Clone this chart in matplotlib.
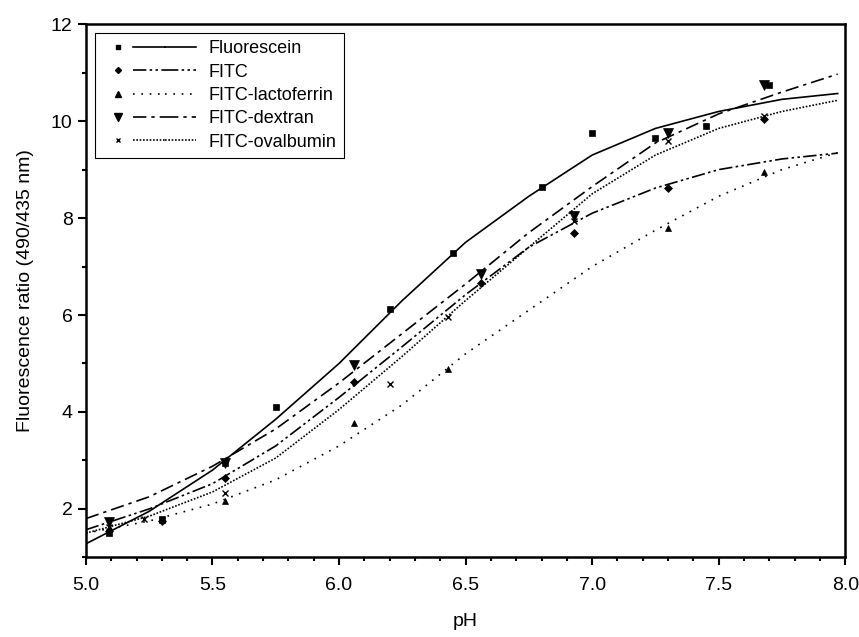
import numpy as np
import matplotlib
matplotlib.use('Agg')
import matplotlib.pyplot as plt
from matplotlib.lines import Line2D
from matplotlib.legend_handler import HandlerTuple
from matplotlib.ticker import MultipleLocator

plt.rcParams['font.family'] = ['Liberation Sans', 'DejaVu Sans']

# measured points (pH, ratio)
fl_x = [5.09, 5.30, 5.55, 5.75, 6.20, 6.45, 6.80, 7.00, 7.25, 7.45, 7.70]
fl_y = [1.50, 1.80, 2.95, 4.10, 6.12, 7.28, 8.65, 9.75, 9.65, 9.90, 10.75]

fitc_x = [5.09, 5.30, 5.55, 6.06, 6.56, 6.93, 7.30, 7.68]
fitc_y = [1.55, 1.75, 2.64, 4.62, 6.66, 7.69, 8.62, 10.05]

lact_x = [5.09, 5.30, 5.55, 6.06, 6.43, 7.30, 7.68]
lact_y = [1.60, 1.78, 2.16, 3.77, 4.89, 7.80, 8.95]

dex_x = [5.09, 5.55, 6.06, 6.56, 6.93, 7.30, 7.68]
dex_y = [1.73, 2.95, 4.97, 6.85, 8.05, 9.75, 10.75]

ova_x = [5.09, 5.23, 5.55, 6.20, 6.43, 6.93, 7.30, 7.68]
ova_y = [1.62, 1.80, 2.33, 4.58, 5.96, 7.95, 9.60, 10.10]

# fitted curves
curve_x = [5.0, 5.25, 5.5, 5.75, 6.0, 6.25, 6.5, 6.75, 7.0, 7.25, 7.5, 7.75, 7.97]
fl_fit = [1.28, 1.95, 2.80, 3.85, 5.00, 6.30, 7.50, 8.45, 9.30, 9.85, 10.20, 10.45, 10.57]
fitc_fit = [1.57, 2.00, 2.52, 3.30, 4.30, 5.35, 6.42, 7.40, 8.10, 8.62, 9.00, 9.22, 9.34]
lact_fit = [1.50, 1.75, 2.10, 2.60, 3.30, 4.15, 5.20, 6.10, 7.00, 7.75, 8.45, 9.00, 9.35]
dex_fit = [1.80, 2.25, 2.88, 3.65, 4.60, 5.62, 6.64, 7.70, 8.65, 9.55, 10.15, 10.60, 10.97]
ova_fit = [1.50, 1.85, 2.35, 3.05, 4.05, 5.15, 6.30, 7.40, 8.50, 9.30, 9.85, 10.20, 10.43]

labels = ['Fluorescein', 'FITC', 'FITC-lactoferrin', 'FITC-dextran', 'FITC-ovalbumin']

series = [
    (fl_x, fl_y, fl_fit, 's', 3.8, '-'),
    (fitc_x, fitc_y, fitc_fit, 'D', 3.8, (0, (8, 2, 1.5, 2, 1.5, 2))),
    (lact_x, lact_y, lact_fit, '^', 4.8, (0, (1, 4))),
    (dex_x, dex_y, dex_fit, 'v', 6.5, (0, (8, 3, 2, 3))),
    (ova_x, ova_y, ova_fit, 'x', 3.8, (0, (1, 1))),
]

fig = plt.figure(figsize=(8.59, 6.37), dpi=100)
ax = fig.add_axes([0.100, 0.125, 0.884, 0.837])

handles = []
for (px, py, fit, mk, ms, ls), lab in zip(series, labels):
    ax.plot(px, py, mk, color='k', ms=ms, mew=1 if mk == 'x' else 0.5)
    ax.plot(curve_x, fit, color='k', lw=1.2, linestyle=ls)
    h_m = Line2D([], [], marker=mk, color='k', ls='none', ms=ms * 0.8)
    h_l = Line2D([], [], color='k', lw=1.2, linestyle=ls)
    # marker in the first third, line over the other two
    handles.append((h_m, h_l, h_l))

ax.set_xlim(5.0, 8.0)
ax.set_ylim(1, 12)
ax.xaxis.set_major_locator(MultipleLocator(0.5))
ax.xaxis.set_minor_locator(MultipleLocator(0.1))
ax.yaxis.set_major_locator(MultipleLocator(2))
ax.yaxis.set_minor_locator(MultipleLocator(1))
ax.xaxis.set_major_formatter(plt.FormatStrFormatter('%.1f'))
ax.tick_params(which='both', direction='out', top=False, right=False, labelsize=14, width=1.5)
ax.tick_params(which='major', length=6)
ax.tick_params(which='minor', length=3)
ax.tick_params(axis='x', pad=8)
for sp in ax.spines.values():
    sp.set_linewidth(1.8)

ax.set_xlabel('pH', fontsize=14, labelpad=14)
ax.set_ylabel('Fluorescence ratio (490/435 nm)', fontsize=14, labelpad=12)

leg = ax.legend(handles, labels, loc='upper left', fontsize=13,
                handler_map={tuple: HandlerTuple(ndivide=None, pad=0)},
                handlelength=5.2, handletextpad=0.7, fancybox=False, edgecolor='k',
                framealpha=1, borderaxespad=0.5, labelspacing=0.35)
leg.get_frame().set_linewidth(0.8)

fig.savefig('out.png', dpi=100)
